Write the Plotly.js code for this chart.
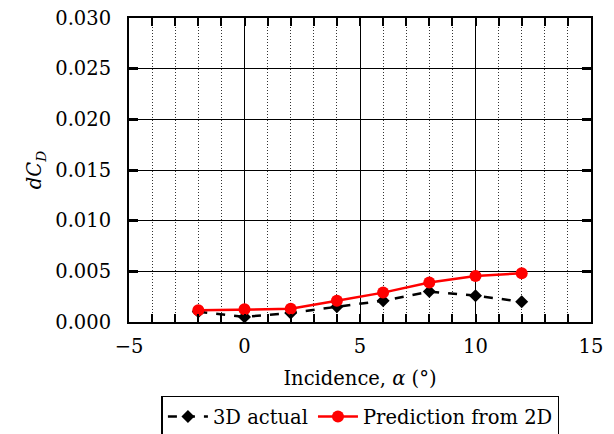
<!DOCTYPE html>
<html><head><meta charset="utf-8">
<script src="https://cdn.plot.ly/plotly-3.0.1.min.js"></script>
<style>html,body{margin:0;padding:0;background:#fff;}</style>
</head><body><div id="chart" style="width:614px;height:434px;"></div>
<script>
const incidence = [-2, 0, 2, 4, 6, 8, 10, 12];
const actual3D = [0.0010, 0.0005, 0.0009, 0.0015, 0.0021, 0.0030, 0.0026, 0.0020];
const predicted2D = [0.00115, 0.00125, 0.0013, 0.0021, 0.0029, 0.0039, 0.00455, 0.0048];
const yTicks = [0, 0.005, 0.010, 0.015, 0.020, 0.025, 0.030];
const yTickText = ['0.000','0.005','0.010','0.015','0.020','0.025','0.030'];
const xTicks = [-5, 0, 5, 10, 15];
const xTickText = ['\u22125','0','5','10','15'];

const font = {family: 'DejaVu Serif', size: 19.5, color: 'black'};
const traces = [
  {x: incidence, y: actual3D, name: '3D actual', mode: 'lines+markers',
   line: {color: 'black', width: 2.5, dash: 'dash'},
   marker: {symbol: 'diamond', size: 10, color: 'black'}},
  {x: incidence, y: predicted2D, name: 'Prediction from 2D', mode: 'lines+markers', yaxis: 'y2',
   line: {color: 'red', width: 2.5},
   marker: {symbol: 'circle', size: 12, color: 'red'}}
];
const layout = {
  width: 614, height: 434,
  margin: {l: 129, r: 23, t: 18, b: 112},
  paper_bgcolor: 'white', plot_bgcolor: 'white',
  font: font,
  showlegend: true,
  legend: {orientation: 'h', xref: 'container', yref: 'container', x: 0.587, xanchor: 'center', y: 0.088, yanchor: 'top',
           bordercolor: 'black', borderwidth: 1.5, font: font, itemwidth: 40,
           tracegroupgap: 0},
  xaxis: {range: [-5, 15], tickvals: xTicks, ticktext: xTickText,
          tickfont: font, ticklabelstandoff: 6,
          showline: true, linecolor: 'black', linewidth: 2, mirror: 'allticks',
          ticks: 'inside', ticklen: 8, tickwidth: 2, tickcolor: 'black',
          showgrid: true, gridcolor: 'black', gridwidth: 1,
          zeroline: false,
          minor: {dtick: 1, tick0: 0, ticks: 'inside', ticklen: 5, tickwidth: 2, tickcolor: 'black',
                  showgrid: true, gridcolor: '#333', griddash: '1px,2px', gridwidth: 1},
          title: {text: 'Incidence, <i>\u03b1</i> (\u00b0)', font: font, standoff: 14}},
  yaxis: {range: [0, 0.030], tickvals: yTicks, ticktext: yTickText,
          tickfont: font,
          showline: true, linecolor: 'black', linewidth: 2, mirror: true,
          ticks: 'outside', ticklen: 12, tickwidth: 2, tickcolor: 'rgba(0,0,0,0)',
          showgrid: true, gridcolor: 'black', gridwidth: 1,
          zeroline: false,
          title: {text: '<i>dC</i><sub><i>D</i></sub>', font: font, standoff: 8}},
  yaxis2: {overlaying: 'y', matches: 'y', range: [0, 0.030], tickvals: yTicks,
          showticklabels: false, showline: false, showgrid: false, zeroline: false,
          mirror: 'allticks', side: 'left',
          ticks: 'inside', ticklen: 9, tickwidth: 3, tickcolor: 'black'}
};
Plotly.newPlot('chart', traces, layout, {displayModeBar: false, staticPlot: true});
</script></body></html>
